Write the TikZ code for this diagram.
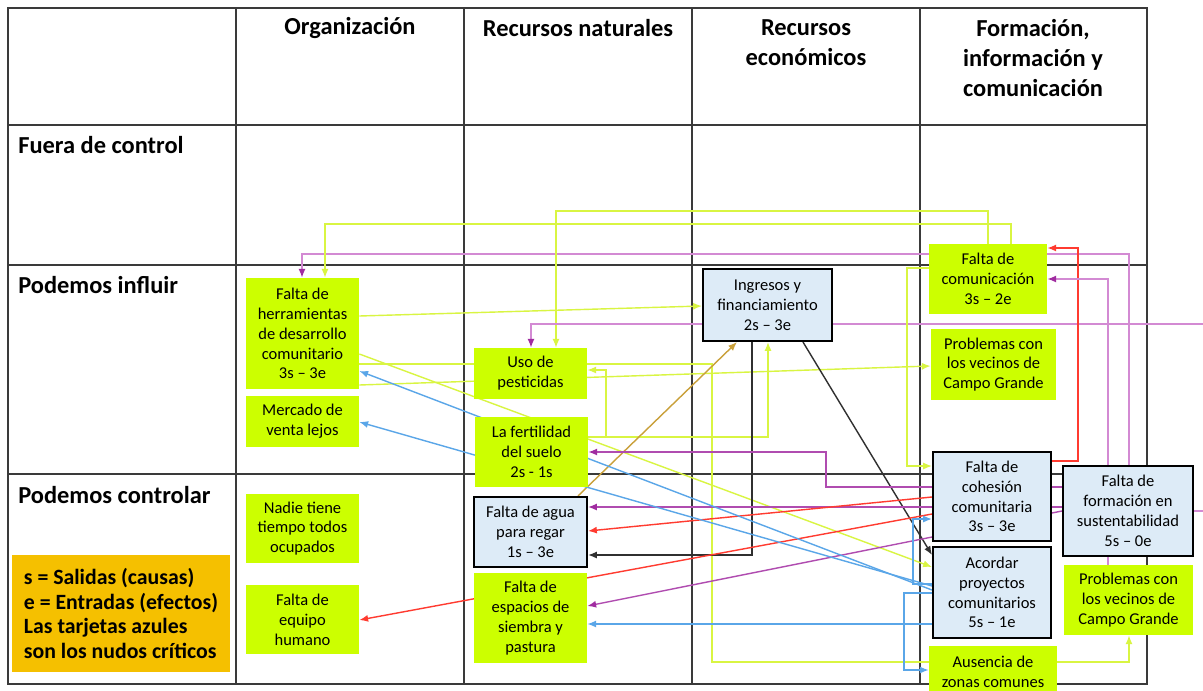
\documentclass[tikz,border=0pt]{standalone}
\usepackage{fontspec}
\setmainfont{Carlito}
\usetikzlibrary{arrows.meta}

\definecolor{cardgreen}{HTML}{CCFF00}
\definecolor{critblue}{HTML}{DDEBF7}
\definecolor{notegold}{HTML}{F5C000}
\definecolor{gridgray}{HTML}{3A3A3A}
\definecolor{linkyel}{HTML}{D9F542}
\definecolor{purlight}{HTML}{D38AD3}
\definecolor{purdark}{HTML}{B04CB0}
\definecolor{purtip}{HTML}{A02CA0}
\definecolor{linkred}{HTML}{FF3B30}
\definecolor{linkblue}{HTML}{5AA6E8}
\definecolor{linkgold}{HTML}{C9A03A}
\definecolor{linkblack}{HTML}{303030}

\pgfdeclarelayer{grid}
\pgfdeclarelayer{links}
\pgfsetlayers{grid,links,main}

\begin{document}
\begin{tikzpicture}[x=0.02cm,y=-0.02cm,
  card/.style={fill=cardgreen, inner sep=0pt, align=center, font=\fontsize{9.4}{11.3}\selectfont},
  crit/.style={card, fill=critblue, draw=black, line width=1.2pt},
  head/.style={font=\bfseries\fontsize{13.9}{17}\selectfont, align=center, inner sep=0pt},
  rowlab/.style={head, anchor=west},
  gridline/.style={draw=gridgray, line width=0.9pt},
  wire/.style={line width=0.8pt},
  link/.style={wire, -{Latex[length=5pt,width=4pt]}},
  yelink/.style={link, draw=linkyel},
  purlink/.style={wire, draw=purlight, -{Latex[length=5pt,width=4pt,color=purtip]}},
  plumlink/.style={wire, draw=purdark, -{Latex[length=5pt,width=4pt,color=purtip]}},
  redlink/.style={link, draw=linkred},
  blulink/.style={link, draw=linkblue},
  blklink/.style={link, draw=linkblack},
  goldlink/.style={link, draw=linkgold}]

  \useasboundingbox (0,0) rectangle (1203,690);

  % Table
  \begin{pgfonlayer}{grid}
    \fill[white] (0,0) rectangle (1203,690);
    \draw[gridline] (8,8) rectangle (1147,684);
    \foreach \x in {236,464,692,920} \draw[gridline] (\x,8) -- (\x,684);
    \foreach \y in {125,265,474} \draw[gridline] (8,\y) -- (1147,\y);
  \end{pgfonlayer}

  % Headers
  \node[head] (horg) at (350,28) {Organización};
  \node[head] (hnat) at (578,28) {Recursos naturales};
  \node[head] (heco) at (806,43) {Recursos\\económicos};
  \node[head] (hfor) at (1033,58) {Formación,\\información y\\comunicación};
  \node[rowlab] (rfuera) at (18,145) {Fuera de control};
  \node[rowlab] (rinfl) at (18,285) {Podemos influir};
  \node[rowlab] (rcont) at (18,495) {Podemos controlar};

  % Cards
  \node[card, minimum width=2.26cm, minimum height=2.22cm] (herr) at (302.5,333.5) {Falta de\\herramientas\\de desarrollo\\comunitario\\3s -- 3e};
  \node[card, minimum width=2.26cm, minimum height=1.02cm] (merc) at (302.5,421.5) {Mercado de\\venta lejos};
  \node[card, minimum width=2.26cm, minimum height=1.38cm] (nadie) at (302.5,528.5) {Nadie tiene\\tiempo todos\\ocupados};
  \node[card, minimum width=2.26cm, minimum height=1.38cm] (equipo) at (302.5,619.5) {Falta de\\equipo\\humano};
  \node[card, minimum width=2.26cm, minimum height=1.02cm] (pest) at (530.5,373.5) {Uso de\\pesticidas};
  \node[card, minimum width=2.26cm, minimum height=1.40cm] (fert) at (531.5,452) {La fertilidad\\del suelo\\2s - 1s};
  \node[crit, minimum width=2.26cm, minimum height=1.40cm] (agua) at (530.5,532) {Falta de agua\\para regar\\1s -- 3e};
  \node[card, minimum width=2.26cm, minimum height=1.80cm] (espacios) at (530.5,618) {Falta de\\espacios de\\siembra y\\pastura};
  \node[crit, minimum width=2.58cm, minimum height=1.44cm] (ingr) at (767.5,305) {Ingresos y\\financiamiento\\2s -- 3e};
  \node[card, minimum width=2.36cm, minimum height=1.40cm] (comu) at (988,279) {Falta de\\comunicación\\3s -- 2e};
  \node[card, minimum width=2.50cm, minimum height=1.42cm] (probA) at (993.5,364.5) {Problemas con\\los vecinos de\\Campo Grande};
  \node[crit, minimum width=2.36cm, minimum height=1.78cm] (cohe) at (992,496.5) {Falta de\\cohesión\\comunitaria\\3s -- 3e};
  \node[crit, minimum width=2.36cm, minimum height=1.82cm] (acord) at (992,592.5) {Acordar\\proyectos\\comunitarios\\5s -- 1e};
  \node[crit, minimum width=2.60cm, minimum height=1.80cm] (form) at (1128,511) {Falta de\\formación en\\sustentabilidad\\5s -- 0e};
  \node[card, minimum width=2.58cm, minimum height=1.40cm] (probB) at (1128.5,600) {Problemas con\\los vecinos de\\Campo Grande};
  \node[card, minimum width=2.56cm, minimum height=1.02cm] (ausen) at (993,671.5) {Ausencia de\\zonas comunes};

  % Legend
  \node[fill=notegold, minimum width=4.36cm, minimum height=2.34cm, inner sep=0pt, align=left,
        font=\bfseries\fontsize{12.4}{14.2}\selectfont] (legend) at (121,613.5)
        {s = Salidas (causas)\\e = Entradas (efectos)\\Las tarjetas azules\\son los nudos críticos};

  % Connectors
  \begin{pgfonlayer}{links}
    \draw[purlink] (1129,0 |- form.north) |- (302,254) -- (302,0 |- herr.north);
    \draw[yelink] (1011,0 |- comu.north) |- (325,224) -- (325,0 |- herr.north);
    \draw[yelink] (988,0 |- comu.north) |- (556,211) -- (556,0 |- pest.north);
    \draw[purlink] (form.east |- 0,511) -- (1215,511) |- (531,324) -- (531,0 |- pest.north);
    \draw[yelink] (herr.east |- 0,316) -- (ingr.west |- 0,306);
    \draw[yelink] (herr.east |- 0,354) -- (acord.west |- 0,567);
    \draw[wire, draw=linkyel] (herr.east |- 0,364) -| (712,662) -- (ausen.west |- 0,662);
    \draw[yelink] (ausen.east |- 0,662) -| (1129,0 |- probB.south);
    \draw[yelink] (herr.east |- 0,385) -- (probA.west |- 0,366);
    \draw[yelink] (fert.east |- 0,437) -| (768,0 |- ingr.south);
    \draw[yelink] (fert.east |- 0,437) -- (606,437) |- (pest.east |- 0,370);
    \draw[goldlink] (578,0 |- agua.north) -- (737,0 |- ingr.south);
    \draw[blklink] (752,0 |- ingr.south) |- (agua.east |- 0,555);
    \draw[blklink] (803,0 |- ingr.south) -- (acord.west |- 0,555);
    \draw[plumlink] (form.west |- 0,487) -| (826,452) -- (fert.east |- 0,452);
    \draw[plumlink] (form.west |- 0,507) -- (agua.east |- 0,507);
    \draw[redlink] (cohe.west |- 0,497) -- (agua.east |- 0,531);
    \draw[redlink] (cohe.west |- 0,514) -- (equipo.east |- 0,620);
    \draw[redlink] (cohe.east |- 0,461) -| (1078,248) -- (comu.east |- 0,248);
    \draw[purlink] (1108,0 |- probB.north) |- (comu.east |- 0,279);
    \draw[plumlink] (form.west |- 0,511) -- (espacios.east |- 0,606);
    \draw[blulink] (acord.west |- 0,590) -- (herr.east |- 0,371);
    \draw[blulink] (acord.west |- 0,586) -- (merc.east |- 0,422);
    \draw[blulink] (acord.west |- 0,624) -- (espacios.east |- 0,624);
    \draw[blulink] (acord.west |- 0,584) -| (913,519) -- (cohe.west |- 0,519);
    \draw[blulink] (acord.west |- 0,593) -| (904,670) -- (ausen.west |- 0,670);
    \draw[yelink] (comu.west |- 0,268) -| (907,466) -- (cohe.west |- 0,466);
  \end{pgfonlayer}

\end{tikzpicture}
\end{document}
